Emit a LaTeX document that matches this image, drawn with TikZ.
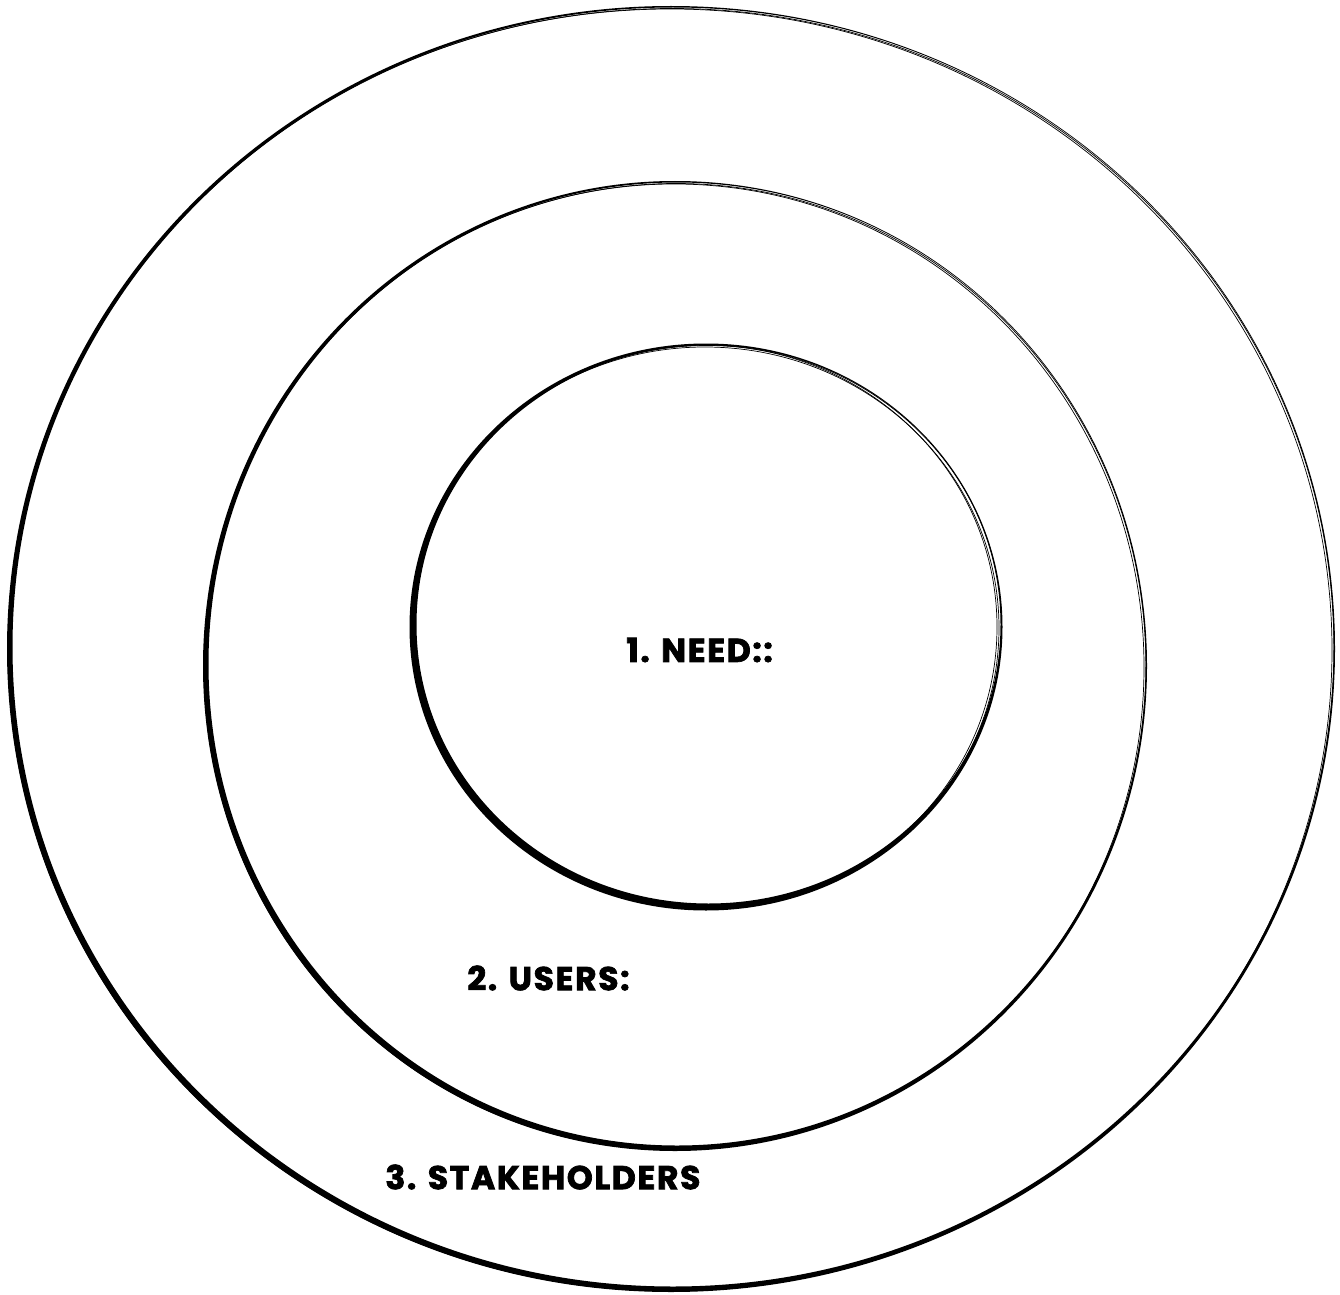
\documentclass[tikz,border=0pt]{standalone}
\usepackage{fontspec}
\newfontfamily\labfont{Poppins}[LetterSpace=5,FakeBold=2.2]
\tikzset{
  lab/.style={font=\labfont\bfseries\fontsize{16.5}{18}\selectfont, anchor=west, inner sep=0pt},
  brush/.style={fill=black, even odd rule},
  thinstroke/.style={draw=black, line width=0.35pt}
}
\begin{document}
\begin{tikzpicture}[x=0.5pt,y=0.5pt]
\useasboundingbox (0,0) rectangle (1340,-1295);
% outer ring
\fill[brush] (671,-649) ellipse [x radius=664, y radius=643]
             (673,-647) ellipse [x radius=660.5, y radius=639.5];
\draw[thinstroke] (670,-650) ellipse [x radius=662, y radius=641];
\draw[thinstroke] (672,-649) ellipse [x radius=662, y radius=640.5];
% middle ring
\fill[brush] (675,-666) ellipse [x radius=472, y radius=485]
             (677,-664) ellipse [x radius=468.5, y radius=481.5];
\draw[thinstroke] (674,-667) ellipse [x radius=470, y radius=483];
\draw[thinstroke] (676,-666) ellipse [x radius=470, y radius=482.5];
% inner ring
\fill[brush] (706,-627) ellipse [x radius=296.5, y radius=283.5]
             (708.5,-624.5) ellipse [x radius=292, y radius=279];
\draw[thinstroke] (705,-628) ellipse [x radius=294, y radius=281];
\draw[thinstroke] (707,-626) ellipse [x radius=294.5, y radius=280.5];
\draw[thinstroke] (704,-627) ellipse [x radius=293, y radius=282];
% labels
\node[lab] (need) at (626,-650) {1. NEED::};
\node[lab] (users) at (467,-978) {2. USERS:};
\node[lab] (stake) at (385,-1177) {3. STAKEHOLDERS};
\end{tikzpicture}
\end{document}
